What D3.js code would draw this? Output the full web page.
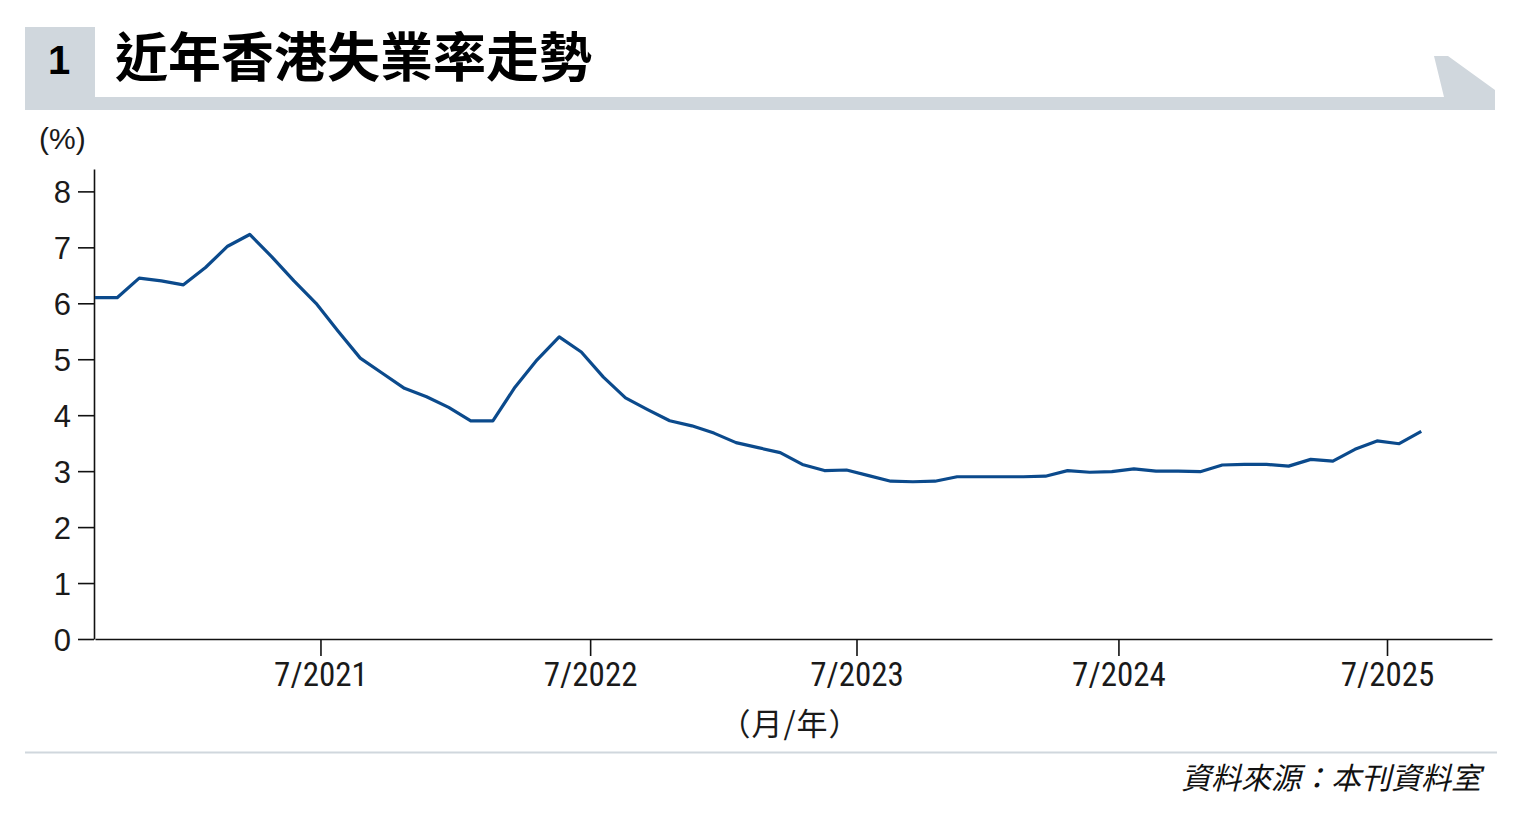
<!DOCTYPE html>
<html>
<head>
<meta charset="utf-8">
<script src="https://cdn.jsdelivr.net/npm/d3@7"></script>
<style>
  body { margin: 0; background: #fff; }
  .num { font-family: "Liberation Sans Narrow", "Roboto Condensed", "Liberation Sans", sans-serif; }
  .sans { font-family: "Liberation Sans", Arial, sans-serif; }
  .cjk { font-family: "Noto Sans CJK TC", "Noto Sans CJK SC", sans-serif; }
</style>
</head>
<body>
<div id="chart"></div>
<script>
// months (3-month moving average, end month)
const months = [
  "2020-07","2020-08","2020-09","2020-10","2020-11","2020-12",
  "2021-01","2021-02","2021-03","2021-04","2021-05","2021-06","2021-07","2021-08","2021-09","2021-10","2021-11","2021-12",
  "2022-01","2022-02","2022-03","2022-04","2022-05","2022-06","2022-07","2022-08","2022-09","2022-10","2022-11","2022-12",
  "2023-01","2023-02","2023-03","2023-04","2023-05","2023-06","2023-07","2023-08","2023-09","2023-10","2023-11","2023-12",
  "2024-01","2024-02","2024-03","2024-04","2024-05","2024-06","2024-07","2024-08","2024-09","2024-10","2024-11","2024-12",
  "2025-01","2025-02","2025-03","2025-04","2025-05","2025-06","2025-07"
];
const rates = [
  6.10, 6.10, 6.45, 6.40, 6.33, 6.64,
  7.02, 7.23, 6.83, 6.40, 6.00, 5.50, 5.02, 4.75, 4.48, 4.33, 4.14, 3.90,
  3.90, 4.50, 4.99, 5.40, 5.13, 4.68, 4.31, 4.10, 3.90, 3.81, 3.68, 3.51,
  3.42, 3.33, 3.12, 3.01, 3.02, 2.92, 2.82, 2.81, 2.82, 2.90, 2.90, 2.90,
  2.90, 2.91, 3.01, 2.98, 2.99, 3.04, 3.00, 3.00, 2.99, 3.11, 3.12, 3.12,
  3.09, 3.21, 3.18, 3.39, 3.54, 3.49, 3.71
];
// x tick labels and where they sit, in month steps from the first point
const xTickLabels = ["7/2021", "7/2022", "7/2023", "7/2024", "7/2025"];
const xTickAt = [10.2, 22.4, 34.45, 46.3, 58.45];
const yTicks = [0, 1, 2, 3, 4, 5, 6, 7, 8];

const title = "近年香港失業率走勢";
const chartNo = "1";
const yUnit = "(%)";
const xUnit = "（月/年）";
const source = "資料來源：本刊資料室";

const data = months.map(function(m, i) { return {month: m, i: i, rate: rates[i]}; });

const width = 1520, height = 814;
const margin = {top: 169, left: 94, right: 28, bottom: 175};
const band = "#d0d7dd";

const svg = d3.select("#chart")
    .append("svg")
    .attr("width", width)
    .attr("height", height);

/*
HEADER
*/
svg.append("path")
    .attr("d", "M25,27 L95,27 L95,97 L1444,97 L1434,56 L1448,56 L1495,90 L1495,110 L25,110 Z")
    .attr("fill", band);

svg.append("text")
    .attr("class", "sans")
    .attr("x", 59)
    .attr("y", 74)
    .attr("text-anchor", "middle")
    .style("font-weight", "bold")
    .style("font-size", "40px")
    .text(chartNo);

svg.append("text")
    .attr("class", "cjk")
    .attr("x", 115)
    .attr("y", 77)
    .style("font-weight", "bold")
    .style("font-size", "53px")
    .text(title);

/*
SCALES
*/
const xScale = d3.scaleLinear()
    .domain([0, 63.2])
    .range([95, width - margin.right]);

const yScale = d3.scaleLinear()
    .domain([0, 8.4])
    .range([639, margin.top]);

/*
AXES
*/
const yAxis = svg.append("g")
    .attr("transform", `translate(${margin.left},0)`)
    .call(d3.axisLeft(yScale).tickValues(yTicks).tickSize(16).tickSizeOuter(0).tickPadding(7));

const xAxis = svg.append("g")
    .attr("transform", `translate(0,639)`)
    .call(d3.axisBottom(xScale)
        .tickValues(xTickAt)
        .tickFormat(function(d, i) { return xTickLabels[i]; })
        .tickSize(17).tickSizeOuter(0).tickPadding(4));

svg.selectAll(".domain, .tick line")
    .attr("stroke", "#111")
    .attr("stroke-width", 1.6);

yAxis.selectAll("text")
    .attr("class", "sans")
    .attr("fill", "#1a1a1a")
    .style("font-size", "31px")
    .attr("dy", "0.36em");

xAxis.selectAll("text")
    .attr("class", "num")
    .attr("fill", "#1a1a1a")
    .style("font-size", "33px")
    .attr("dy", "0.78em");

/*
LINE
*/
const line = d3.line()
    .x(function(d) { return xScale(d.i); })
    .y(function(d) { return yScale(d.rate); });

svg.append("path")
    .datum(data)
    .attr("fill", "none")
    .attr("stroke", "#0b4a8c")
    .attr("stroke-width", 3.2)
    .attr("stroke-linejoin", "round")
    .attr("d", line);

/*
LABELS
*/
svg.append("text")
    .attr("class", "sans")
    .attr("x", 39)
    .attr("y", 149)
    .style("font-size", "30px")
    .attr("fill", "#1a1a1a")
    .text(yUnit);

svg.append("text")
    .attr("class", "cjk")
    .attr("x", 790)
    .attr("y", 735)
    .attr("text-anchor", "middle")
    .style("font-size", "31px")
    .style("letter-spacing", "1px")
    .attr("fill", "#1a1a1a")
    .text(xUnit);

svg.append("line")
    .attr("x1", 25).attr("x2", 1497)
    .attr("y1", 752.5).attr("y2", 752.5)
    .attr("stroke", band)
    .attr("stroke-width", 2);

svg.append("text")
    .attr("class", "cjk")
    .attr("x", 1481)
    .attr("y", 789)
    .attr("text-anchor", "end")
    .style("font-size", "30px")
    .style("font-style", "italic")
    .attr("fill", "#111")
    .text(source);
</script>
</body>
</html>
